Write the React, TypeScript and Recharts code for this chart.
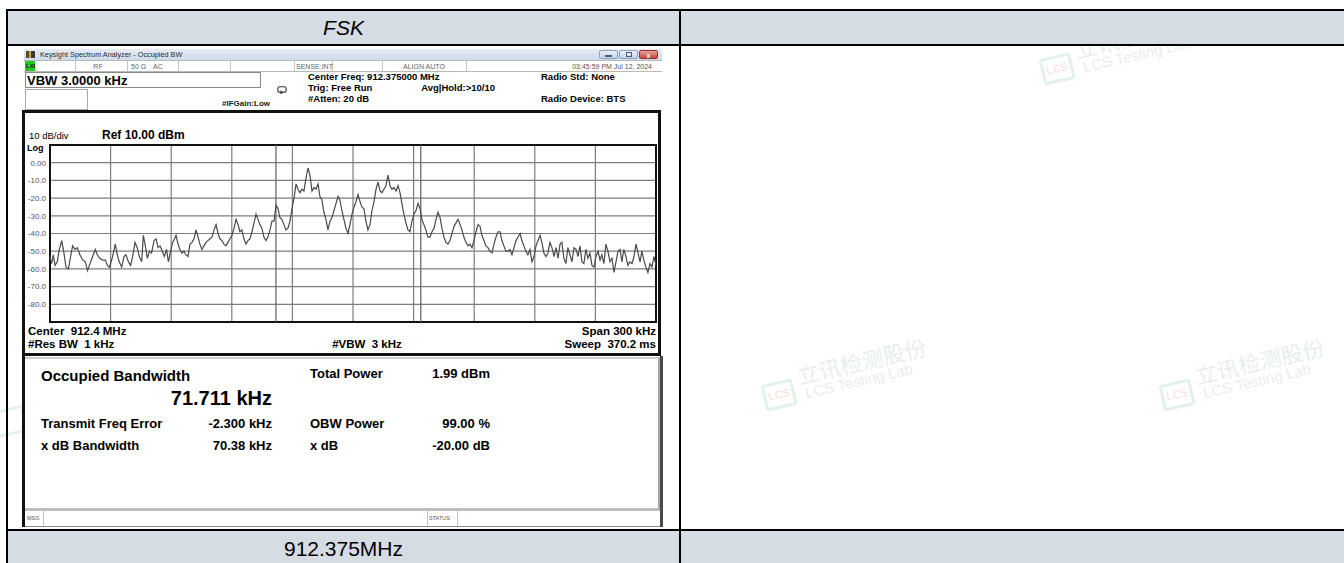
import React from "react";
import { LineChart, Line, XAxis, YAxis, CartesianGrid, ReferenceLine, ReferenceArea } from "recharts";

// ---------- data ----------
const traceKHz = [
  -150.0, -149.2, -148.4, -147.5, -146.4, -145.4, -144.2, -143.1, -142.1, -140.9,
  -139.8, -138.8, -137.6, -136.5, -135.2, -133.8, -132.5, -131.4, -130.2, -128.9,
  -127.6, -126.6, -125.3, -123.9, -122.6, -121.6, -120.6, -119.5, -118.6, -117.7,
  -116.7, -115.7, -114.5, -113.4, -112.4, -111.2, -110.1, -109.1, -107.9, -106.8,
  -105.8, -104.6, -103.8, -102.8, -101.8, -100.8, -99.7, -98.5, -97.5, -96.5,
  -95.5, -94.4, -93.4, -92.3, -91.4, -90.3, -89.3, -88.3, -87.6, -86.6,
  -85.7, -84.7, -83.7, -82.7, -81.7, -80.7, -79.7, -78.7, -77.7, -76.7,
  -75.8, -74.8, -73.8, -72.8, -71.8, -70.8, -69.8, -68.8, -67.8, -66.8,
  -65.9, -64.9, -63.9, -62.9, -61.9, -60.9, -59.9, -58.9, -57.9, -56.9,
  -56.0, -55.0, -54.0, -53.0, -52.0, -51.0, -50.0, -49.0, -48.0, -47.0,
  -46.1, -45.1, -44.1, -43.1, -42.1, -41.1, -40.1, -39.1, -38.1, -37.1,
  -36.2, -35.2, -34.2, -33.2, -32.2, -31.2, -30.2, -29.2, -28.2, -27.2,
  -26.3, -25.3, -24.3, -23.3, -22.3, -21.3, -20.3, -19.3, -18.3, -17.3,
  -16.4, -15.4, -14.4, -13.4, -12.4, -11.4, -10.4, -9.4, -8.4, -7.4,
  -6.5, -5.5, -4.5, -3.5, -2.5, -1.5, -0.5, 0.5, 1.5, 2.5,
  3.5, 4.4, 5.4, 6.4, 7.4, 8.4, 9.4, 10.4, 11.4, 12.4,
  13.4, 14.3, 15.3, 16.3, 17.3, 18.3, 19.3, 20.3, 21.3, 22.3,
  23.3, 24.2, 25.2, 26.2, 27.2, 28.2, 29.2, 30.2, 31.2, 32.2,
  33.2, 34.1, 35.1, 36.1, 37.1, 38.1, 39.1, 40.1, 41.1, 42.1,
  43.1, 44.0, 45.0, 46.0, 47.0, 48.0, 49.0, 50.0, 51.0, 52.0,
  53.0, 53.9, 54.9, 55.9, 56.9, 57.9, 58.9, 59.9, 60.9, 61.9,
  62.9, 63.8, 64.8, 65.8, 66.8, 67.8, 68.8, 69.8, 70.8, 71.8,
  72.8, 73.7, 74.7, 75.7, 76.7, 77.7, 78.7, 79.7, 80.7, 81.7,
  82.7, 83.6, 84.6, 85.6, 86.6, 87.6, 88.6, 89.6, 90.6, 91.6,
  92.6, 93.5, 94.5, 95.5, 96.5, 97.5, 98.5, 99.5, 100.5, 101.5,
  102.5, 103.4, 104.4, 105.4, 106.4, 107.4, 108.4, 109.4, 110.4, 111.4,
  112.4, 113.3, 114.3, 115.3, 116.3, 117.3, 118.3, 119.3, 120.3, 121.3,
  122.3, 123.2, 124.2, 125.2, 126.2, 127.2, 128.2, 129.2, 130.2, 131.2,
  132.2, 133.1, 134.1, 135.1, 136.1, 137.1, 138.1, 139.1, 140.1, 141.1,
  142.1, 143.0, 144.0, 145.0, 146.0, 147.0, 148.0, 149.0, 150.0,
];

const traceDbm = [
  -53, -57, -52, -58, -56, -49, -44, -51, -59, -60,
  -53, -47, -49, -48, -52, -55, -56, -61, -57, -53,
  -49, -52, -54, -55, -55, -58, -59, -55, -51, -46,
  -52, -56, -59, -53, -52, -56, -58, -53, -45, -48,
  -53, -56, -41, -47, -54, -50, -51, -44, -43, -48,
  -47, -50, -53, -49, -56, -50, -45, -43, -41, -46,
  -49, -51, -50, -52, -53, -46, -45, -43, -38, -42,
  -46, -49, -47, -45, -44, -43, -42, -38, -35, -40,
  -43, -44, -46, -47, -45, -43, -41, -37, -32, -35,
  -39, -38, -43, -46, -44, -43, -39, -34, -29, -32,
  -35, -37, -42, -44, -42, -38, -33, -33, -24, -26,
  -31, -32, -35, -38, -37, -33, -26, -20, -12, -15,
  -17, -15, -16, -9, -3, -7, -16, -14, -15, -12,
  -19, -21, -28, -32, -38, -33, -31, -27, -23, -19,
  -21, -27, -32, -37, -40, -35, -29, -25, -22, -18,
  -22, -25, -26, -33, -38, -35, -27, -22, -15, -11,
  -16, -17, -15, -13, -7, -13, -15, -14, -16, -13,
  -17, -23, -29, -34, -38, -39, -33, -29, -27, -23,
  -26, -32, -35, -38, -42, -42, -39, -37, -32, -28,
  -31, -37, -42, -45, -46, -44, -40, -36, -34, -32,
  -35, -38, -42, -45, -47, -46, -48, -44, -39, -35,
  -36, -41, -44, -47, -48, -50, -51, -46, -42, -39,
  -39, -44, -47, -50, -50, -49, -52, -48, -44, -42,
  -40, -44, -47, -50, -52, -49, -56, -53, -47, -44,
  -41, -45, -51, -53, -51, -45, -48, -53, -48, -54,
  -46, -45, -54, -57, -48, -52, -56, -48, -49, -53,
  -47, -56, -57, -49, -54, -51, -58, -59, -53, -50,
  -55, -52, -57, -46, -50, -56, -54, -62, -56, -50,
  -49, -56, -49, -53, -58, -56, -57, -53, -46, -51,
  -56, -50, -55, -59, -62, -57, -59, -53, -58,
];

const yTicks = [0, -10, -20, -30, -40, -50, -60, -70, -80];
const yTickLabels = ["0.00", "-10.0", "-20.0", "-30.0", "-40.0", "-50.0", "-60.0", "-70.0", "-80.0"];
const xTicks = [-120, -90, -60, -30, 0, 30, 60, 90, 120];
const refLevelDbm = 10;
const bottomLevelDbm = -90;
const spanKHz = 300;
const obwKHz = 71.711;
const freqErrorKHz = -2.3;

const chartData = traceKHz.map((f, i) => ({ f, v: traceDbm[i] }));
const obwLeft = freqErrorKHz - obwKHz / 2;
const obwRight = freqErrorKHz + obwKHz / 2;

// ---------- helpers ----------
const FONT = '"Liberation Sans", Arial, Helvetica, sans-serif';
const W = 1344;

type TP = {
  x: number; y: number; s: number; b?: boolean; a?: "start" | "end" | "middle";
  c?: string; it?: boolean; ff?: string; children: React.ReactNode;
};
function T({ x, y, s, b, a = "start", c = "#000", it, ff, children }: TP) {
  const st: React.CSSProperties = {
    position: "absolute", top: y, fontSize: s, fontWeight: b ? 700 : 400, color: c,
    lineHeight: 1, whiteSpace: "pre", fontFamily: ff || FONT, fontStyle: it ? "italic" : "normal",
    transform: "translateY(-50%)",
  };
  if (a === "start") st.left = x;
  else if (a === "end") st.right = W - x;
  else { st.left = x; st.transform = "translate(-50%,-50%)"; }
  return <div style={st}>{children}</div>;
}

function Box({ l, t, w, h, style }: { l: number; t: number; w: number; h: number; style?: React.CSSProperties }) {
  return <div style={{ position: "absolute", left: l, top: t, width: w, height: h, boxSizing: "border-box", ...style }} />;
}

function Logo({ text = true }: { text?: boolean }) {
  return (
    <div style={{
      width: 32, height: 27, border: "3px solid #1f9a3e", borderRadius: 3, color: "#c0392b",
      fontWeight: 700, fontSize: 11, display: "flex", alignItems: "center", justifyContent: "center", fontFamily: FONT,
      boxSizing: "border-box",
    }}>{text ? "LCS" : null}</div>
  );
}

function Watermark({ x, y }: { x: number; y: number }) {
  return (
    <div style={{
      position: "absolute", left: x, top: y, transform: "translateY(-50%) rotate(-13deg)", transformOrigin: "0 50%",
      opacity: 0.12, display: "flex", alignItems: "flex-end", whiteSpace: "nowrap", pointerEvents: "none",
    }}>
      <Logo />
      <div style={{ marginLeft: 6 }}>
        <div style={{ fontFamily: '"Noto Sans CJK SC"', fontSize: 22, color: "#3c7d4d", lineHeight: 1.05 }}>立讯检测股份</div>
        <div style={{ fontFamily: FONT, fontSize: 15, color: "#3c7d4d", lineHeight: 1.1, marginLeft: 4 }}>LCS Testing Lab</div>
      </div>
    </div>
  );
}

function SpectrumPlot() {
  return (
    <LineChart
      width={639}
      height={246}
      data={chartData}
      margin={{ top: 35, right: 5, bottom: 34, left: 0 }}
      style={{ position: "absolute", left: 22, top: 110 }}
    >
      <CartesianGrid stroke="#7d7d7d" strokeWidth={1.2} />
      <XAxis type="number" dataKey="f" domain={[-spanKHz / 2, spanKHz / 2]} ticks={xTicks} hide />
      <YAxis
        type="number"
        domain={[bottomLevelDbm, refLevelDbm]}
        ticks={yTicks}
        width={28}
        axisLine={false}
        tickLine={false}
        tickSize={0}
        tickMargin={4}
        interval={0}
        tick={{ fontSize: 8, fill: "#555", fontFamily: FONT }}
        tickFormatter={(v: number) => yTickLabels[yTicks.indexOf(v)] ?? String(v)}
      />
      <ReferenceLine x={obwLeft} stroke="#6a6a6a" strokeWidth={1.3} />
      <ReferenceLine x={obwRight} stroke="#6a6a6a" strokeWidth={1.3} />
      <Line type="linear" dataKey="v" stroke="#4a4a4a" strokeWidth={1.2} dot={false} isAnimationActive={false} />
      <ReferenceArea
        x1={-spanKHz / 2} x2={spanKHz / 2} y1={bottomLevelDbm} y2={refLevelDbm}
        fill="none" fillOpacity={0} stroke="#111" strokeWidth={2}
      />
    </LineChart>
  );
}

export default function App() {
  const info = 9.5;
  const sr = 7; // status row font
  const headFill = "#d5dce4";
  return (
    <div style={{ position: "absolute", left: 0, top: 0, width: W, height: 563, overflow: "hidden", background: "#fff", fontFamily: FONT }}>
      {/* watermarks (behind) */}
      <Watermark x={1040} y={66} />
      <Watermark x={762} y={392} />
      <Watermark x={1160} y={392} />
      <div style={{ position: "absolute", left: -6, top: 408, transform: "rotate(-13deg)", opacity: 0.12 }}>
        <Logo text={false} />
      </div>

      {/* table fills and borders */}
      <Box l={8} t={11} w={W - 8} h={33} style={{ background: headFill }} />
      <Box l={8} t={531} w={W - 8} h={32} style={{ background: headFill }} />
      <Box l={6} t={9} w={W - 6} h={2} style={{ background: "#000" }} />
      <Box l={6} t={44} w={W - 6} h={2} style={{ background: "#000" }} />
      <Box l={6} t={529} w={W - 6} h={2} style={{ background: "#000" }} />
      <Box l={6} t={9} w={2} h={554} style={{ background: "#000" }} />
      <Box l={679} t={9} w={2} h={554} style={{ background: "#000" }} />
      <T x={343.5} y={27} s={21} a="middle" it>FSK</T>
      <T x={343.5} y={548} s={21} a="middle">912.375MHz</T>

      {/* ---------- analyzer screenshot ---------- */}
      <Box l={24} t={49} w={638} h={478} style={{ background: "#fff" }} />
      {/* title bar */}
      <Box l={24} t={49} w={638} h={11} style={{ background: "linear-gradient(#e4ecf6,#cfdbea)" }} />
      <Box l={26} t={51} w={9} h={7} style={{ background: "linear-gradient(90deg,#5a4a2a 0 30%,#c9a44a 30% 55%,#3b3b3b 55%)" }} />
      <T x={40} y={54.5} s={7.3} c="#2b2b2b">Keysight Spectrum Analyzer - Occupied BW</T>
      <Box l={599} t={50} w={19} h={9} style={{ background: "linear-gradient(#e9f0f8,#c3d2e6)", border: "1px solid #8fa4c0", borderRadius: 2 }} />
      <Box l={619} t={50} w={19} h={9} style={{ background: "linear-gradient(#e9f0f8,#c3d2e6)", border: "1px solid #8fa4c0", borderRadius: 2 }} />
      <Box l={639} t={50} w={19} h={9} style={{ background: "linear-gradient(#e8a39a,#c9463b)", border: "1px solid #93352d", borderRadius: 2 }} />
      <Box l={605} t={55} w={7} h={1.5} style={{ background: "#4a5d7a" }} />
      <Box l={626} t={52} w={6} h={5} style={{ border: "1px solid #4a5d7a" }} />
      <T x={648.5} y={54.5} s={7} b a="middle" c="#fff">x</T>

      {/* status row */}
      <Box l={24} t={60} w={638} h={12} style={{ background: "#fff", borderTop: "1px solid #b9b9b9", borderBottom: "1px solid #b9b9b9" }} />
      {[75, 127, 178, 230, 294, 332, 382, 466].map((x) => (
        <Box key={x} l={x} t={61} w={1} h={10} style={{ background: "#c4c4c4" }} />
      ))}
      <Box l={25} t={61} w={10} h={10} style={{ background: "#1fcf1f" }} />
      <T x={26} y={66} s={6} b c="#111">LXI</T>
      <T x={98} y={66} s={sr} a="middle" c="#666">RF</T>
      <T x={131} y={66} s={sr} c="#666">50 Ω</T>
      <T x={153} y={66} s={sr} c="#666">AC</T>
      <T x={296} y={66} s={sr} c="#666">SENSE:INT</T>
      <T x={424} y={66} s={sr} a="middle" c="#666">ALIGN AUTO</T>
      <T x={652} y={66} s={sr} a="end" c="#555">03:45:59 PM Jul 12, 2024</T>

      {/* info area */}
      <Box l={25} t={72} w={236} h={16} style={{ border: "1px solid #8a8a8a" }} />
      <T x={27} y={80} s={13} b>VBW 3.0000 kHz</T>
      <Box l={25} t={89} w={63} h={21} style={{ border: "1px solid #a9a9a9" }} />
      <T x={222} y={103.5} s={8} b c="#222">#IFGain:Low</T>
      <svg style={{ position: "absolute", left: 277, top: 86 }} width={10} height={9}>
        <rect x={0.8} y={0.8} width={8.4} height={5.5} rx={2} fill="none" stroke="#333" strokeWidth={1.1} />
        <path d="M3.5 4.2 L6.5 6.3 L3.5 8.4 Z" fill="#333" />
      </svg>
      <T x={308} y={77} s={info} b>Center Freq: 912.375000 MHz</T>
      <T x={308} y={88} s={info} b>Trig: Free Run</T>
      <T x={495} y={88} s={info} b a="end">Avg|Hold:&gt;10/10</T>
      <T x={308} y={99} s={info} b>#Atten: 20 dB</T>
      <T x={541} y={77} s={info} b>Radio Std: None</T>
      <T x={541} y={99} s={info} b>Radio Device: BTS</T>

      {/* display frame */}
      <Box l={22} t={110} w={639} h={246} style={{ border: "3px solid #111", background: "#fff" }} />
      <T x={29} y={136} s={9.5}>10 dB/div</T>
      <T x={102} y={135} s={12} b>Ref 10.00 dBm</T>
      <T x={27} y={147.5} s={9} b>Log</T>
      <SpectrumPlot />
      <T x={28} y={332} s={11.5} b>Center  912.4 MHz</T>
      <T x={28} y={344.5} s={11.5} b>#Res BW  1 kHz</T>
      <T x={367} y={345} s={11.5} b a="middle">#VBW  3 kHz</T>
      <T x={656} y={332} s={11.5} b a="end">Span 300 kHz</T>
      <T x={656} y={345} s={11.5} b a="end">Sweep  370.2 ms</T>

      {/* results panel */}
      <Box l={22} t={356} w={3} h={171} style={{ background: "#111" }} />
      <Box l={660} t={356} w={3} h={171} style={{ background: "#4a4a4a" }} />
      <Box l={25} t={357} w={635} h={153} style={{ borderTop: "2px solid #cdcdcd", borderRight: "2px solid #a8a8a8", borderBottom: "2px solid #bdbdbd" }} />
      <T x={41} y={375} s={15} b>Occupied Bandwidth</T>
      <T x={272} y={398} s={20} b a="end">71.711 kHz</T>
      <T x={310} y={373} s={13} b>Total Power</T>
      <T x={490} y={373} s={13} b a="end">1.99 dBm</T>
      <T x={41} y={423} s={13} b>Transmit Freq Error</T>
      <T x={272} y={423} s={13} b a="end">-2.300 kHz</T>
      <T x={310} y={423} s={13} b>OBW Power</T>
      <T x={490} y={423} s={13} b a="end">99.00 %</T>
      <T x={41} y={445} s={13} b>x dB Bandwidth</T>
      <T x={272} y={445} s={13} b a="end">70.38 kHz</T>
      <T x={310} y={445} s={13} b>x dB</T>
      <T x={490} y={445} s={13} b a="end">-20.00 dB</T>

      {/* MSG / STATUS bar */}
      <Box l={25} t={510} w={635} h={17} style={{ borderTop: "1px solid #c0c0c0", borderBottom: "1px solid #8a8a8a" }} />
      <Box l={43} t={511} w={1} h={15} style={{ background: "#c4c4c4" }} />
      <Box l={427} t={511} w={1} h={15} style={{ background: "#c4c4c4" }} />
      <Box l={457} t={511} w={1} h={15} style={{ background: "#c4c4c4" }} />
      <T x={27} y={518.5} s={5.5} c="#555">MSG</T>
      <T x={429} y={518.5} s={5.5} c="#555">STATUS</T>
    </div>
  );
}
